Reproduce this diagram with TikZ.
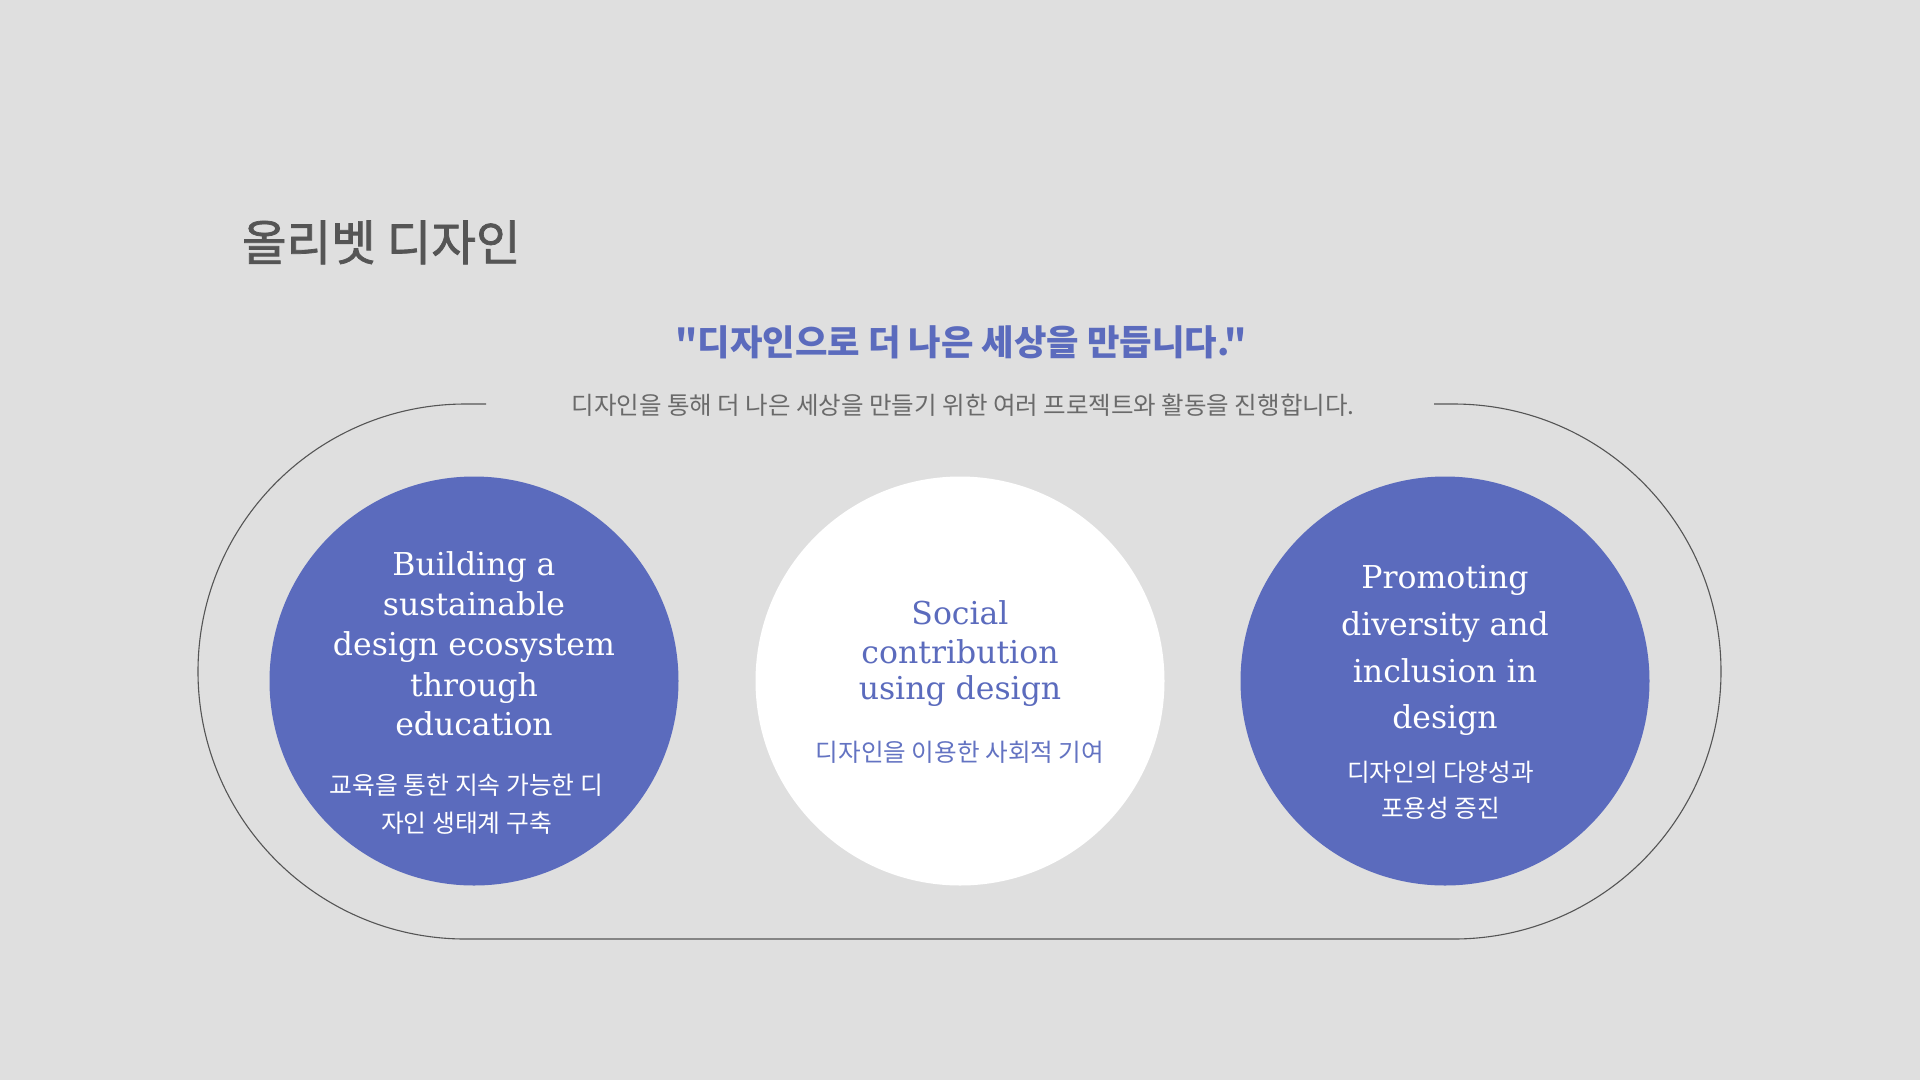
\documentclass[tikz,border=0pt]{standalone}
\usepackage{fontspec}
\newfontfamily\krfont{Noto Sans CJK KR}
\newfontfamily\krtitlefont{Noto Sans CJK KR}[FakeBold=1.5]
\newfontfamily\serfont{DejaVu Serif}
\definecolor{bg}{HTML}{DFDFDF}
\definecolor{accent}{HTML}{5B6BBD}
\definecolor{accentlt}{HTML}{6373C2}
\definecolor{titlegray}{HTML}{555555}
\definecolor{subgray}{HTML}{6A6A6A}
\definecolor{outline}{HTML}{555555}
\begin{document}
\begin{tikzpicture}[x=1pt,y=-1pt,
  every node/.style={inner sep=0pt,outer sep=0pt},
  disc/.style={circle,minimum size=409pt,inner sep=0pt,draw=none},
  bluedisc/.style={disc,fill=accent},
  whitedisc/.style={disc,fill=white},
  sertext/.style={anchor=base,font=\serfont\fontsize{31.5}{38}\selectfont},
  krtext/.style={anchor=base,font=\krfont\fontsize{24.6}{30}\selectfont},
  frame/.style={draw=outline,line width=1.1pt}]
\fill[bg] (0,0) rectangle (1920,1080);
\useasboundingbox (0,0) rectangle (1920,1080);

% heading texts
\node[anchor=base west,text=titlegray,font=\krtitlefont\fontsize{48.5}{54}\selectfont] (title) at (242,260.5) {올리벳 디자인};
\node[anchor=base,text=accent,font=\krfont\bfseries\fontsize{35.3}{40}\selectfont] (quote) at (961,355) {"디자인으로 더 나은 세상을 만듭니다."};
\node[anchor=base,text=subgray,font=\krfont\fontsize{24.5}{30}\selectfont] (sub) at (963,414.8) {디자인을 통해 더 나은 세상을 만들기 위한 여러 프로젝트와 활동을 진행합니다.};

% outer frame with a gap for the subtitle
\coordinate (gapL) at (486,404);
\coordinate (gapR) at (1434,404);
\draw[frame] (gapL) -- (465.5,404) arc[start angle=90,end angle=270,radius=267.5pt]
  -- (1453.5,939) arc[start angle=-90,end angle=90,radius=267.5pt] -- (gapR);

% circles
\node[bluedisc] (c1) at (474,681) {};
\node[whitedisc] (c2) at (960,681) {};
\node[bluedisc] (c3) at (1445,681) {};

% left circle
\node[sertext,text=white] (l1) at (474,575) {Building a};
\node[sertext,text=white] (l2) at (474,615) {sustainable};
\node[sertext,text=white] (l3) at (474,655) {design ecosystem};
\node[sertext,text=white] (l4) at (474,696) {through};
\node[sertext,text=white] (l5) at (474,735) {education};
\node[krtext,text=white,font=\krfont\fontsize{24.8}{30}\selectfont] (lk1) at (466.5,794.6) {교육을 통한 지속 가능한 디};
\node[krtext,text=white,font=\krfont\fontsize{24.8}{30}\selectfont] (lk2) at (466.5,832.6) {자인 생태계 구축};

% middle circle
\node[sertext,text=accent] (m1) at (960,624) {Social};
\node[sertext,text=accent] (m2) at (960,663) {contribution};
\node[sertext,text=accent] (m3) at (960,699.5) {using design};
\node[krtext,text=accentlt] (mk1) at (960,761.3) {디자인을 이용한 사회적 기여};

% right circle
\node[sertext,text=white] (r1) at (1445,588) {Promoting};
\node[sertext,text=white] (r2) at (1445,635) {diversity and};
\node[sertext,text=white] (r3) at (1445,682) {inclusion in};
\node[sertext,text=white] (r4) at (1445,728) {design};
\node[krtext,text=white] (rk1) at (1440.5,781.3) {디자인의 다양성과};
\node[krtext,text=white] (rk2) at (1440.5,817.3) {포용성 증진};
\end{tikzpicture}
\end{document}
